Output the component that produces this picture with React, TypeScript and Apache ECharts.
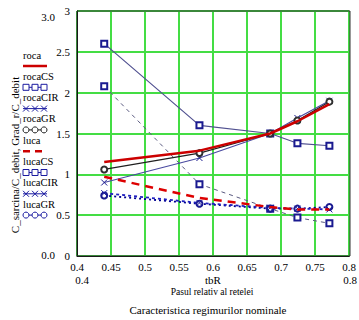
import React, { useEffect, useRef } from "react";
import * as echarts from "echarts";

const xValues = [0.44, 0.58, 0.684, 0.724, 0.771];
const roca = [1.15, 1.29, 1.5, 1.65, 1.86];
const rocaCS = [2.6, 1.6, 1.5, 1.38, 1.35];
const rocaCIR = [0.9, 1.2, 1.5, 1.69, 1.9];
const rocaGR = [1.06, 1.26, 1.5, 1.66, 1.89];
const luca = [0.97, 0.71, 0.6, 0.57, 0.57];
const lucaCS = [2.08, 0.88, 0.58, 0.47, 0.4];
const lucaCIR = [0.77, 0.65, 0.59, 0.58, 0.57];
const lucaGR = [0.74, 0.64, 0.58, 0.58, 0.6];
const xTicks = ["0.4", "0.45", "0.5", "0.55", "0.6", "0.65", "0.7", "0.75", "0.8"];
const legendNames = ["roca", "rocaCS", "rocaCIR", "rocaGR", "luca", "lucaCS", "lucaCIR", "lucaGR"];

const FONT = "'Liberation Serif', 'DejaVu Serif', serif";
const X_SYM = "path://M0,0L8,8M8,0L0,8";

const pair = (ys: number[]) => xValues.map((x, i) => [x, ys[i]]);

export default function App() {
  const ref = useRef<HTMLDivElement>(null);
  useEffect(() => {
    if (!ref.current) return;
    const chart = echarts.init(ref.current, undefined, { renderer: "svg" });

    const mk = (
      name: string,
      data: number[],
      lineColor: string,
      width: number,
      type: any,
      symbol: string,
      symColor: string,
      z: number
    ) => ({
      name,
      type: "line",
      data: pair(data),
      symbol,
      symbolSize: symbol === "none" ? 0 : 6,
      showSymbol: symbol !== "none",
      lineStyle: { color: lineColor, width, type },
      itemStyle:
        symbol === X_SYM
          ? { color: "rgba(0,0,0,0)", borderColor: symColor, borderWidth: 1 }
          : { color: symColor, borderColor: symColor, borderWidth: 1 },
      z,
      silent: true,
    });

    const legend: any[] = [];
    const legendStyles = [
      { color: "#cc0000", sym: "line", dash: false },
      { color: "#1a1aa0", sym: "rect" },
      { color: "#1a1aa0", sym: "x" },
      { color: "#202020", sym: "circle" },
      { color: "#cc0000", sym: "line", dash: true },
      { color: "#1a1aa0", sym: "rect" },
      { color: "#1a1aa0", sym: "x" },
      { color: "#1a1aa0", sym: "circle" },
    ];
    legendNames.forEach((n, i) => {
      const y0 = 55 + i * 21.3;
      legend.push({
        type: "text",
        x: 23,
        y: y0,
        style: { text: n, fontFamily: FONT, fontSize: 10.5, fill: "#000", verticalAlign: "middle" },
      });
      const s: any = legendStyles[i];
      const ys = y0 + 11;
      if (s.sym === "line") {
        legend.push({
          type: "line",
          shape: { x1: 23, y1: ys, x2: 47, y2: ys },
          style: { stroke: s.color, lineWidth: 2.5, lineDash: s.dash ? [7, 5] : null },
        });
      } else {
        legend.push({
          type: "line",
          shape: { x1: 23, y1: ys, x2: 47, y2: ys },
          style: { stroke: s.color, lineWidth: 1 },
        });
        [26, 35, 44].forEach((cx) => {
          if (s.sym === "rect") {
            legend.push({
              type: "rect",
              shape: { x: cx - 3, y: ys - 3, width: 6, height: 6 },
              style: { stroke: s.color, fill: "#fff", lineWidth: 1 },
            });
          } else if (s.sym === "circle") {
            legend.push({
              type: "circle",
              shape: { cx, cy: ys, r: 3 },
              style: { stroke: s.color, fill: "#fff", lineWidth: 1 },
            });
          } else {
            legend.push({
              type: "line",
              shape: { x1: cx - 3, y1: ys - 3, x2: cx + 3, y2: ys + 3 },
              style: { stroke: s.color, lineWidth: 1 },
            });
            legend.push({
              type: "line",
              shape: { x1: cx + 3, y1: ys - 3, x2: cx - 3, y2: ys + 3 },
              style: { stroke: s.color, lineWidth: 1 },
            });
          }
        });
      }
    });

    const txt = (text: string, x: number, y: number, size = 11, align = "center", extra: any = {}) => ({
      type: "text",
      x,
      y,
      style: {
        text,
        fontFamily: FONT,
        fontSize: size,
        fill: "#000",
        align,
        verticalAlign: "middle",
      },
      ...extra,
    });

    chart.setOption({
      animation: false,
      backgroundColor: "#fff",
      textStyle: { fontFamily: FONT },
      grid: { left: 77, right: 9, top: 11, bottom: 64, show: false },
      xAxis: {
        type: "value",
        min: 0.4,
        max: 0.8,
        interval: 0.05,
        axisLine: { show: true, onZero: false, lineStyle: { color: "#000", width: 1 } },
        axisTick: { show: false },
        axisLabel: {
          color: "#000",
          fontSize: 11,
          fontFamily: FONT,
          margin: 5,
          formatter: (v: number) => {
            const i = Math.round((v - 0.4) / 0.05);
            return xTicks[i] ?? "";
          },
        },
        splitLine: { show: true, lineStyle: { color: "#44dd44", width: 2 } },
      },
      yAxis: {
        type: "value",
        min: 0,
        max: 3,
        interval: 0.5,
        axisLine: { show: true, lineStyle: { color: "#000", width: 1 } },
        axisTick: { show: false },
        axisLabel: { color: "#000", fontSize: 11, fontFamily: FONT, margin: 7 },
        splitLine: { show: true, lineStyle: { color: "#44dd44", width: 2 } },
      },
      graphic: [
        {
          type: "rect",
          shape: { x: 77, y: 11, width: 273, height: 245 },
          style: { stroke: "#333", fill: "none", lineWidth: 1 },
          z: 100,
        },
        txt("3.0", 48, 17),
        txt("0.0", 48, 255),
        txt("0.4", 82, 280),
        txt("tbR", 213, 280),
        txt("0.8", 350, 280),
        txt("Pasul relativ al retelei", 212, 292, 9.5),
        txt("Caracteristica regimurilor nominale", 208, 310, 11),
        txt("C_sarcina/C_debit, Grad_r/C_debit", 15, 155, 11, "center", { rotation: Math.PI / 2 }),
        ...legend,
      ],
      series: [
        mk("lucaCS", lucaCS, "#5a5a80", 1, [4, 4], "emptyRect", "#1a1a90", 3),
        mk("rocaCS", rocaCS, "#505090", 1.2, "solid", "emptyRect", "#1a1a90", 3),
        mk("lucaGR", lucaGR, "#000090", 1.8, [2, 3], "emptyCircle", "#1a1a90", 4),
        mk("lucaCIR", lucaCIR, "#2020c0", 1.8, [3, 3], X_SYM, "#1a1aa0", 4),
        mk("rocaCIR", rocaCIR, "#4a4aa0", 1.2, "solid", X_SYM, "#1a1a90", 4),
        mk("rocaGR", rocaGR, "#202020", 1.2, "solid", "emptyCircle", "#303030", 5),
        mk("luca", luca, "#dd0000", 2.5, [8, 6], "none", "#dd0000", 6),
        mk("roca", roca, "#cc0000", 2.5, "solid", "none", "#cc0000", 6),
      ],
    });
    return () => chart.dispose();
  }, []);
  return <div ref={ref} style={{ width: 359, height: 320, position: "absolute", left: 0, top: 0 }} />;
}
